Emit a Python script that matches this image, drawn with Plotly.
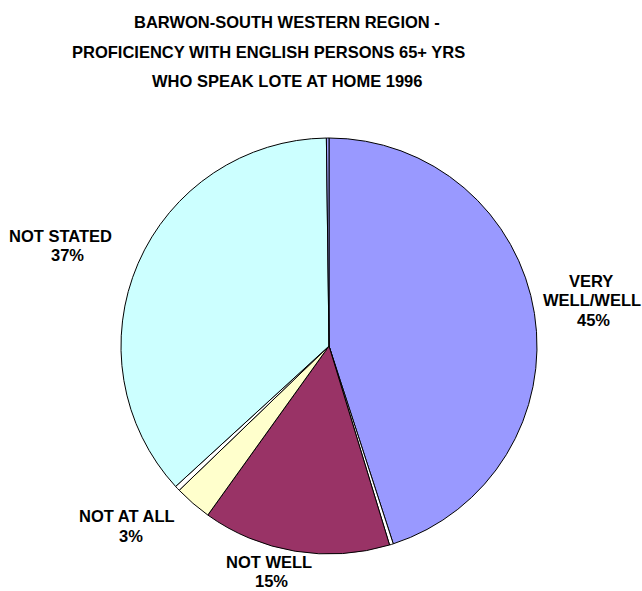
import plotly.graph_objects as go

# Proficiency in English, persons aged 65+ who speak a LOTE at home (%)
categories = ["VERY WELL/WELL", "", "NOT WELL", "NOT AT ALL", "", "NOT STATED", " "]
values = [45.0, 0.3, 14.6, 2.9, 0.4, 36.6, 0.2]
colors = ["#9999FF", "#FFFFFF", "#993366", "#FFFFCC", "#FFFFFF", "#CCFFFF", "#A3A3FF"]

title_lines = [
    "BARWON-SOUTH WESTERN REGION -",
    "PROFICIENCY WITH ENGLISH PERSONS 65+ YRS",
    "WHO SPEAK LOTE AT HOME 1996",
]

# label lines for the named slices, with pixel anchor of each line
label_layout = {
    "VERY WELL/WELL": (["VERY", "WELL/WELL"], [(591, 281), (592, 300)], (593, 320)),
    "NOT STATED": (["NOT STATED"], [(60, 236)], (67, 255)),
    "NOT AT ALL": (["NOT AT ALL"], [(127, 516)], (131, 536)),
    "NOT WELL": (["NOT WELL"], [(269, 562)], (271, 581)),
}

W, H = 642, 591
FONT = "Liberation Sans, Arial, sans-serif"
FONT_SIZE = 16.5


def px(x, y):
    return x / W, 1 - y / H


fig = go.Figure(
    go.Pie(
        labels=categories,
        values=values,
        sort=False,
        direction="clockwise",
        rotation=0,
        marker=dict(colors=colors, line=dict(color="#000000", width=1)),
        textinfo="none",
        hoverinfo="label+percent",
        showlegend=False,
        domain=dict(x=[121 / W, 537 / W], y=[1 - 554 / H, 1 - 138 / H]),
    )
)

annotations = []
title_pos = [(287, 22), (268, 52), (287, 81)]
for text, (x, y) in zip(title_lines, title_pos):
    ax, ay = px(x, y)
    annotations.append(dict(
        text=f"<b>{text}</b>", x=ax, y=ay, xref="paper", yref="paper",
        xanchor="center", yanchor="middle", showarrow=False,
        font=dict(family=FONT, size=FONT_SIZE, color="#000000"),
    ))

total = sum(values)
for name, val in zip(categories, values):
    if name not in label_layout:
        continue
    lines, line_pos, pct_pos = label_layout[name]
    pct = f"{round(val / total * 100)}%"
    for text, (x, y) in list(zip(lines, line_pos)) + [(pct, pct_pos)]:
        ax, ay = px(x, y)
        annotations.append(dict(
            text=f"<b>{text}</b>", x=ax, y=ay, xref="paper", yref="paper",
            xanchor="center", yanchor="middle", showarrow=False,
            font=dict(family=FONT, size=FONT_SIZE, color="#000000"),
        ))

fig.update_layout(
    width=W,
    height=H,
    margin=dict(l=0, r=0, t=0, b=0),
    paper_bgcolor="#FFFFFF",
    plot_bgcolor="#FFFFFF",
    annotations=annotations,
)

fig.write_html("out.html")
